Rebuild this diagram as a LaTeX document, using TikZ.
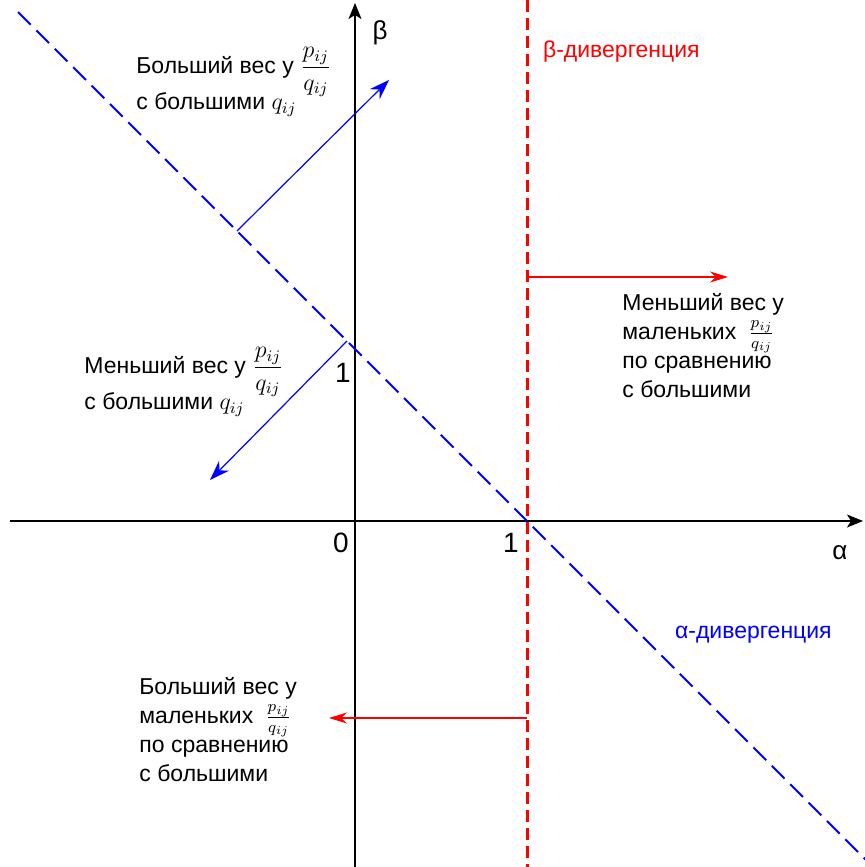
\documentclass[tikz,border=0pt]{standalone}
\usepackage{fontspec}
\setmainfont{Liberation Sans}
\usepackage{amsmath}
\usetikzlibrary{arrows.meta, positioning}
\definecolor{divred}{HTML}{FF0000}
\definecolor{divblue}{HTML}{0000FF}

\begin{document}
\begin{tikzpicture}[x=0.5pt, y=-0.5pt, font=\fontsize{11.5}{13.5}\selectfont]
    \useasboundingbox (0,0) rectangle (864,867);

    % axes
    \coordinate (xstart) at (10,521);
    \coordinate (xend) at (863,521);
    \coordinate (ystart) at (355,867);
    \coordinate (yend) at (355,3);
    \draw[-{Stealth[length=8pt, width=6.5pt, inset=2pt]}, line width=0.8pt] (xstart) -- (xend);
    \draw[-{Stealth[length=8pt, width=6.5pt, inset=2pt]}, line width=0.8pt] (ystart) -- (yend);
    \node[font=\fontsize{13}{15}\selectfont] (betalbl) at (380,33) {β};
    \node[font=\fontsize{13}{15}\selectfont] (alphalbl) at (840,553) {α};
    \node[font=\fontsize{14}{16}\selectfont] (zero) at (341,543) {0};
    \node[font=\fontsize{14}{16}\selectfont] (onex) at (511,543) {1};
    \node[font=\fontsize{14}{16}\selectfont] (oney) at (343,373) {1};

    % beta-divergence line
    \coordinate (betatop) at (527,0);
    \coordinate (betabot) at (527,867);
    \draw[divred, line width=1.5pt, dash pattern=on 6pt off 3pt] (betatop) -- (betabot);
    \node[divred, anchor=west] (betaname) at (536,52) {β-дивергенция};

    % alpha-divergence line
    \coordinate (alphatop) at (18,12);
    \coordinate (alphabot) at (866,860);
    \draw[divblue, line width=0.9pt, dash pattern=on 9pt off 4pt] (alphatop) -- (alphabot);
    \node[divblue, anchor=west] (alphaname) at (668,635) {α-дивергенция};

    % red arrows
    \coordinate (rightfrom) at (527,277);
    \coordinate (rightto) at (728,277);
    \coordinate (leftfrom) at (527,718);
    \coordinate (leftto) at (329,718);
    \draw[-{Stealth[length=9pt, width=5.5pt]}, divred, line width=0.6pt] (rightfrom) -- (rightto);
    \draw[-{Stealth[length=9pt, width=5.5pt]}, divred, line width=0.6pt] (leftfrom) -- (leftto);

    % blue arrows
    \coordinate (upfrom) at (237,231);
    \coordinate (upto) at (389,80);
    \coordinate (downfrom) at (347,341);
    \coordinate (downto) at (210,480);
    \draw[-{Stealth[length=10pt, width=7pt]}, divblue, line width=0.6pt] (upfrom) -- (upto);
    \draw[-{Stealth[length=10pt, width=7pt]}, divblue, line width=0.6pt] (downfrom) -- (downto);

    % labels
    \node[anchor=west, align=left, inner sep=0pt] (bigweight) at (136,82)
        {Больший вес у $\dfrac{p_{ij}}{q_{ij}}$\\[-3pt] с большими $q_{ij}$};
    \node[anchor=west, align=left, inner sep=0pt] (smallweight) at (84,382)
        {Меньший вес у $\dfrac{p_{ij}}{q_{ij}}$\\[-3pt] с большими $q_{ij}$};
    \node[anchor=west, align=left, inner sep=0pt, font=\fontsize{11.5}{14.5}\selectfont] (smallweightr) at (622,346)
        {Меньший вес у\\ маленьких\hspace{6pt}\smash{$\tfrac{p_{ij}}{q_{ij}}$}\\ по сравнению\\ с большими};
    \node[anchor=west, align=left, inner sep=0pt, font=\fontsize{11.5}{14.5}\selectfont] (bigweightl) at (139,730)
        {Больший вес у\\ маленьких\hspace{6pt}\smash{$\tfrac{p_{ij}}{q_{ij}}$}\\ по сравнению\\ с большими};
\end{tikzpicture}
\end{document}
